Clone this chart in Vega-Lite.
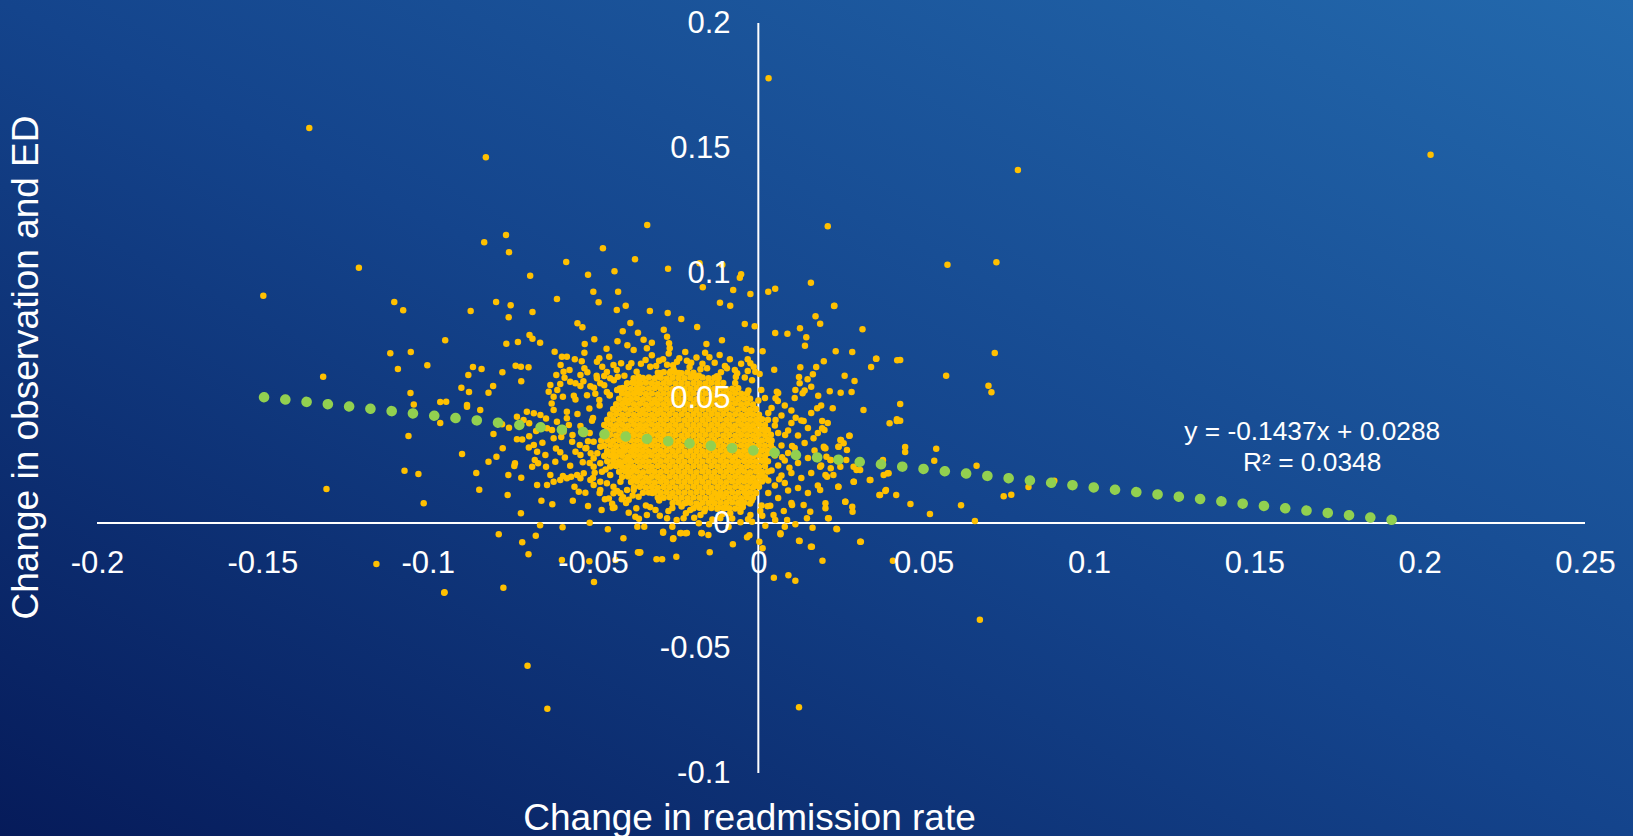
{
"$schema": "https://vega.github.io/schema/vega-lite/v6.json",
"width": 1633, "height": 836, "autosize": "none", "padding": 0,
"config": {"font": "Liberation Sans", "view": {"stroke": null, "fill": {"gradient": "linear", "x1": 0, "y1": 1, "x2": 1, "y2": 0, "stops": [{"offset": 0, "color": "#061b5a"}, {"offset": 0.5, "color": "#14448c"}, {"offset": 1, "color": "#2369ad"}]}}},
"datasets": {
"axes": [{"x": -0.2, "xe": 0.25, "y": 0, "ye": 0}, {"x": 0, "xe": 0, "y": -0.1, "ye": 0.2}],
"trend": [{"x": -0.1495, "y": 0.0503}, {"x": 0.1975, "y": 0.0004}],
"eq": [{"x": 0.1675, "y": 0.0332, "label": "y = -0.1437x + 0.0288"}, {"x": 0.1675, "y": 0.0208, "label": "R² = 0.0348"}],
"pts": [
{"x":0.0031,"y":0.1779},{"x":-0.1358,"y":0.1580},{"x":-0.0824,"y":0.1463},{"x":0.2033,"y":0.1473},{"x":0.0785,"y":0.1412},{"x":-0.0336,"y":0.1192},{"x":0.0210,"y":0.1187},{"x":-0.1208,"y":0.1021},{"x":-0.1497,"y":0.0909},{"x":0.0572,"y":0.1033},{"x":0.0720,"y":0.1043},{"x":0.0715,"y":0.0680},{"x":0.0568,"y":0.0589},{"x":0.0696,"y":0.0549},{"x":0.0705,"y":0.0523},{"x":0.0429,"y":0.0652},{"x":0.0429,"y":0.0476},{"x":0.0429,"y":0.0409},{"x":0.0444,"y":0.0304},{"x":0.0444,"y":0.0284},{"x":0.0538,"y":0.0297},{"x":0.0532,"y":0.0249},{"x":0.0660,"y":0.0229},{"x":0.0460,"y":0.0076},{"x":0.0519,"y":0.0036},{"x":0.0613,"y":0.0071},{"x":0.0655,"y":0.0008},{"x":0.0742,"y":0.0107},{"x":0.0765,"y":0.0113},{"x":0.0817,"y":0.0144},{"x":0.0895,"y":0.0169},{"x":-0.1316,"y":0.0585},{"x":-0.1306,"y":0.0136},{"x":-0.1155,"y":-0.0164},{"x":-0.0950,"y":-0.0279},{"x":-0.0771,"y":-0.0259},{"x":-0.0698,"y":-0.0571},{"x":-0.0638,"y":-0.0743},{"x":0.0123,"y":-0.0737},{"x":0.0670,"y":-0.0387},{"x":0.0230,"y":0.0869},{"x":0.0357,"y":0.0657},{"x":0.0419,"y":0.0415},{"x":0.0236,"y":-0.0023},{"x":0.0310,"y":-0.0075},{"x":0.0407,"y":-0.0151},{"x":-0.0360,"y":-0.0119},{"x":-0.0366,"y":-0.0015},{"x":-0.0288,"y":-0.0039},{"x":-0.0257,"y":-0.0061},{"x":-0.0236,"y":-0.0041},{"x":-0.0220,"y":-0.0041},{"x":-0.0171,"y":-0.0041},{"x":-0.0027,"y":-0.0049},{"x":0.0067,"y":-0.0041},{"x":0.0123,"y":-0.0071},{"x":0.0159,"y":-0.0095},
{"x":-0.0763,"y":0.1152},{"x":-0.0829,"y":0.1123},{"x":-0.0754,"y":0.1083},{"x":-0.0470,"y":0.1099},{"x":-0.0581,"y":0.1044},{"x":-0.0373,"y":0.1055},{"x":-0.0435,"y":0.1007},{"x":-0.0690,"y":0.0989},{"x":-0.0515,"y":0.0993},{"x":-0.0499,"y":0.0925},{"x":-0.0424,"y":0.0925},{"x":-0.0609,"y":0.0896},{"x":-0.0483,"y":0.0883},{"x":-0.1101,"y":0.0884},{"x":-0.1074,"y":0.0851},{"x":-0.0793,"y":0.0884},{"x":-0.0749,"y":0.0871},{"x":-0.0870,"y":0.0848},{"x":-0.0683,"y":0.0844},{"x":-0.0755,"y":0.0823},{"x":-0.0428,"y":0.0852},{"x":-0.0401,"y":0.0869},{"x":-0.0387,"y":0.0800},{"x":-0.0547,"y":0.0799},{"x":-0.0532,"y":0.0783},{"x":-0.0410,"y":0.0767},{"x":-0.0947,"y":0.0731},{"x":-0.0692,"y":0.0752},{"x":-0.0683,"y":0.0737},{"x":-0.0660,"y":0.0721},{"x":-0.0762,"y":0.0717},{"x":-0.0727,"y":0.0724},{"x":-0.0496,"y":0.0735},{"x":-0.0426,"y":0.0727},{"x":-0.0525,"y":0.0716},{"x":-0.0396,"y":0.0711},{"x":-0.1113,"y":0.0679},{"x":-0.1051,"y":0.0684},{"x":-0.0616,"y":0.0685},{"x":-0.0526,"y":0.0681},{"x":-0.0459,"y":0.0697},{"x":-0.0451,"y":0.0665},{"x":-0.0377,"y":0.0692},{"x":-0.0364,"y":0.0761},{"x":-0.1090,"y":0.0616},{"x":-0.1001,"y":0.0631},{"x":-0.0863,"y":0.0624},{"x":-0.0837,"y":0.0616},{"x":-0.0774,"y":0.0603},{"x":-0.0734,"y":0.0629},{"x":-0.0718,"y":0.0625},{"x":-0.0695,"y":0.0623},{"x":-0.0555,"y":0.0655},{"x":-0.0534,"y":0.0647},{"x":-0.0594,"y":0.0665},{"x":-0.0579,"y":0.0665},{"x":-0.0598,"y":0.0632},{"x":-0.0488,"y":0.0645},{"x":-0.0481,"y":0.0659},{"x":-0.0438,"y":0.0632},{"x":-0.0415,"y":0.0639},{"x":-0.0384,"y":0.0639},{"x":-0.0526,"y":0.0619},{"x":-0.0877,"y":0.0592},{"x":-0.0589,"y":0.0605},{"x":-0.0611,"y":0.0592},{"x":-0.0538,"y":0.0592},{"x":-0.0488,"y":0.0579},{"x":-0.0466,"y":0.0588},{"x":-0.0898,"y":0.0541},{"x":-0.0802,"y":0.0548},{"x":-0.0717,"y":0.0567},{"x":-0.1052,"y":0.0520},{"x":-0.0875,"y":0.0524},{"x":-0.0816,"y":0.0521},{"x":-0.0629,"y":0.0552},{"x":-0.0599,"y":0.0556},{"x":-0.0569,"y":0.0565},{"x":-0.0553,"y":0.0559},{"x":-0.0538,"y":0.0548},{"x":-0.0508,"y":0.0547},{"x":-0.0478,"y":0.0559},{"x":-0.0448,"y":0.0579},{"x":-0.0425,"y":0.0585},{"x":-0.0397,"y":0.0559},{"x":-0.0377,"y":0.0579},{"x":-0.0362,"y":0.0585},{"x":-0.0634,"y":0.0525},{"x":-0.0619,"y":0.0505},{"x":-0.0591,"y":0.0505},{"x":-0.0558,"y":0.0509},{"x":-0.0518,"y":0.0511},{"x":-0.0493,"y":0.0517},{"x":-0.0458,"y":0.0524},{"x":-0.0427,"y":0.0532},{"x":-0.0397,"y":0.0517},{"x":-0.0367,"y":0.0532},{"x":-0.0962,"y":0.0484},{"x":-0.0944,"y":0.0485},{"x":-0.0881,"y":0.0472},{"x":-0.1042,"y":0.0474},
{"x":-0.0273,"y":0.1017},{"x":-0.0178,"y":0.1039},{"x":-0.0109,"y":0.1033},{"x":-0.0168,"y":0.0943},{"x":-0.0076,"y":0.0932},{"x":-0.0056,"y":0.0981},{"x":-0.0052,"y":0.0995},{"x":-0.0024,"y":0.0916},{"x":0.0030,"y":0.0925},{"x":0.0051,"y":0.0937},{"x":0.0159,"y":0.0961},{"x":-0.0116,"y":0.0881},{"x":-0.0085,"y":0.0869},{"x":-0.0328,"y":0.0848},{"x":-0.0274,"y":0.0840},{"x":-0.0233,"y":0.0816},{"x":-0.0185,"y":0.0784},{"x":-0.0041,"y":0.0796},{"x":-0.0011,"y":0.0787},{"x":0.0229,"y":0.0868},{"x":0.0173,"y":0.0827},{"x":0.0187,"y":0.0797},{"x":0.0315,"y":0.0775},{"x":0.0126,"y":0.0779},{"x":0.0051,"y":0.0760},{"x":0.0088,"y":0.0757},{"x":0.0145,"y":0.0743},{"x":0.0141,"y":0.0709},{"x":-0.0286,"y":0.0773},{"x":-0.0276,"y":0.0745},{"x":-0.0270,"y":0.0719},{"x":-0.0268,"y":0.0699},{"x":-0.0110,"y":0.0731},{"x":-0.0157,"y":0.0716},{"x":-0.0161,"y":0.0681},{"x":-0.0036,"y":0.0696},{"x":-0.0021,"y":0.0689},{"x":0.0013,"y":0.0687},{"x":0.0234,"y":0.0687},{"x":0.0284,"y":0.0684},{"x":0.0356,"y":0.0657},{"x":0.0341,"y":0.0624},{"x":0.0420,"y":0.0651},{"x":0.0198,"y":0.0647},{"x":0.0175,"y":0.0624},{"x":0.0127,"y":0.0623},{"x":0.0048,"y":0.0613},{"x":0.0165,"y":0.0595},{"x":0.0123,"y":0.0584},{"x":0.0149,"y":0.0575},{"x":0.0125,"y":0.0559},{"x":0.0160,"y":0.0545},{"x":0.0134,"y":0.0519},{"x":0.0112,"y":0.0532},{"x":0.0181,"y":0.0509},{"x":0.0216,"y":0.0527},{"x":0.0249,"y":0.0521},{"x":0.0282,"y":0.0524},{"x":0.0261,"y":0.0589},{"x":0.0291,"y":0.0568},{"x":-0.0032,"y":0.0655},{"x":-0.0024,"y":0.0639},{"x":-0.0014,"y":0.0625},{"x":-0.0009,"y":0.0605},{"x":-0.0032,"y":0.0608},{"x":0.0009,"y":0.0532},{"x":0.0056,"y":0.0525},{"x":0.0052,"y":0.0499},{"x":-0.0347,"y":0.0733},{"x":-0.0322,"y":0.0721},{"x":-0.0337,"y":0.0699},{"x":-0.0300,"y":0.0649},{"x":-0.0276,"y":0.0633},{"x":-0.0246,"y":0.0645},{"x":-0.0216,"y":0.0649},{"x":-0.0208,"y":0.0624},{"x":-0.0175,"y":0.0615},{"x":-0.0155,"y":0.0619},{"x":-0.0095,"y":0.0619},{"x":-0.0064,"y":0.0599},{"x":-0.0125,"y":0.0587},{"x":-0.0201,"y":0.0587},{"x":-0.0256,"y":0.0613},{"x":-0.0296,"y":0.0599},{"x":-0.0327,"y":0.0625},
{"x":-0.1058,"y":0.0348},{"x":-0.0962,"y":0.0400},{"x":-0.0896,"y":0.0276},{"x":-0.1070,"y":0.0209},{"x":-0.1028,"y":0.0196},{"x":-0.1012,"y":0.0079},{"x":-0.0853,"y":0.0200},{"x":-0.0844,"y":0.0133},{"x":-0.0816,"y":0.0245},{"x":-0.0792,"y":0.0265},{"x":-0.0773,"y":0.0299},{"x":-0.0801,"y":0.0356},{"x":-0.0756,"y":0.0192},{"x":-0.0758,"y":0.0112},{"x":-0.0736,"y":0.0239},{"x":-0.0738,"y":0.0228},{"x":-0.0717,"y":0.0181},{"x":-0.0718,"y":0.0039},{"x":-0.0785,"y":-0.0045},{"x":-0.0714,"y":-0.0077},{"x":-0.0695,"y":-0.0125},{"x":-0.0673,"y":-0.0051},{"x":-0.0660,"y":-0.0009},{"x":-0.0592,"y":-0.0017},{"x":-0.0656,"y":0.0089},{"x":-0.0623,"y":0.0075},{"x":-0.0561,"y":0.0089},{"x":-0.0510,"y":0.0001},{"x":-0.0455,"y":-0.0025},{"x":-0.0408,"y":-0.0061},{"x":-0.0474,"y":0.0052},{"x":-0.0442,"y":0.0077},{"x":-0.0464,"y":0.0095},{"x":-0.0413,"y":0.0095},{"x":-0.0392,"y":0.0093},{"x":-0.0369,"y":0.0059},{"x":-0.0372,"y":0.0025},{"x":-0.0364,"y":-0.0117},{"x":-0.0511,"y":-0.0153},{"x":-0.0594,"y":-0.0148},{"x":-0.0497,"y":-0.0236},{"x":-0.0432,"y":-0.0148},{"x":-0.0949,"y":-0.0277},
{"x":-0.0730,"y":0.0335},{"x":-0.0714,"y":0.0334},{"x":-0.0693,"y":0.0347},{"x":-0.0679,"y":0.0312},{"x":-0.0669,"y":0.0285},{"x":-0.0676,"y":0.0252},{"x":-0.0666,"y":0.0239},{"x":-0.0642,"y":0.0225},{"x":-0.0644,"y":0.0272},{"x":-0.0614,"y":0.0245},{"x":-0.0684,"y":0.0225},{"x":-0.0669,"y":0.0152},{"x":-0.0639,"y":0.0152},{"x":-0.0629,"y":0.0192},{"x":-0.0619,"y":0.0165},{"x":-0.0599,"y":0.0172},{"x":-0.0579,"y":0.0179},{"x":-0.0591,"y":0.0188},{"x":-0.0566,"y":0.0185},{"x":-0.0548,"y":0.0192},{"x":-0.0538,"y":0.0179},{"x":-0.0528,"y":0.0199},{"x":-0.0508,"y":0.0172},{"x":-0.0498,"y":0.0152},{"x":-0.0556,"y":0.0145},{"x":-0.0543,"y":0.0125},{"x":-0.0599,"y":0.0283},{"x":-0.0553,"y":0.0285},{"x":-0.0538,"y":0.0272},{"x":-0.0619,"y":0.0339},{"x":-0.0639,"y":0.0379},{"x":-0.0609,"y":0.0405},{"x":-0.0579,"y":0.0419},{"x":-0.0624,"y":0.0372},{"x":-0.0589,"y":0.0365},{"x":-0.0563,"y":0.0325},{"x":-0.0540,"y":0.0312},{"x":-0.0523,"y":0.0299},{"x":-0.0498,"y":0.0325},{"x":-0.0478,"y":0.0305},{"x":-0.0458,"y":0.0279},{"x":-0.0498,"y":0.0225},{"x":-0.0473,"y":0.0205},{"x":-0.0448,"y":0.0192},{"x":-0.0458,"y":0.0159},{"x":-0.0438,"y":0.0145},{"x":-0.0417,"y":0.0165},{"x":-0.0397,"y":0.0132},{"x":-0.0377,"y":0.0132},{"x":-0.0362,"y":0.0105},{"x":-0.0438,"y":0.0119},{"x":-0.0417,"y":0.0119},{"x":-0.0619,"y":0.0452},{"x":-0.0579,"y":0.0445},{"x":-0.0700,"y":0.0445},{"x":-0.0679,"y":0.0439},{"x":-0.0659,"y":0.0432},{"x":-0.0841,"y":0.0452},{"x":-0.0881,"y":0.0465},{"x":-0.0478,"y":0.0165},{"x":-0.0377,"y":0.0172},{"x":-0.0397,"y":0.0205},{"x":-0.0377,"y":0.0219},{"x":-0.0392,"y":0.0259},{"x":-0.0417,"y":0.0239},{"x":-0.0438,"y":0.0232},{"x":-0.0438,"y":0.0272},{"x":-0.0407,"y":0.0292},{"x":-0.0377,"y":0.0299},{"x":-0.0498,"y":0.0259},{"x":-0.0478,"y":0.0239},{"x":-0.0775,"y":0.0395},{"x":-0.0754,"y":0.0381},{"x":-0.0710,"y":0.0412},{"x":-0.0693,"y":0.0399},{"x":-0.0730,"y":0.0425},
{"x":0.0318,"y":0.0452},{"x":0.0397,"y":0.0399},{"x":0.0419,"y":0.0408},{"x":0.0276,"y":0.0349},{"x":0.0248,"y":0.0332},{"x":0.0268,"y":0.0292},{"x":0.0243,"y":0.0305},{"x":0.0198,"y":0.0305},{"x":0.0193,"y":0.0379},{"x":0.0193,"y":0.0408},{"x":0.0225,"y":0.0459},{"x":0.0178,"y":0.0459},{"x":0.0137,"y":0.0408},{"x":0.0167,"y":0.0339},{"x":0.0218,"y":0.0252},{"x":0.0248,"y":0.0225},{"x":0.0288,"y":0.0225},{"x":0.0308,"y":0.0212},{"x":0.0339,"y":0.0172},{"x":0.0379,"y":0.0192},{"x":0.0394,"y":0.0199},{"x":0.0377,"y":0.0252},{"x":0.0366,"y":0.0112},{"x":0.0384,"y":0.0128},{"x":0.0417,"y":0.0112},{"x":0.0288,"y":0.0165},{"x":0.0284,"y":0.0065},{"x":0.0263,"y":0.0085},{"x":0.0203,"y":0.0079},{"x":0.0213,"y":0.0019},{"x":0.0238,"y":-0.0025},{"x":0.0242,"y":0.0145},{"x":0.0208,"y":0.0185},{"x":0.0308,"y":-0.0075},{"x":0.0194,"y":-0.0151},{"x":0.0162,"y":-0.0095},{"x":0.0125,"y":-0.0072},{"x":0.0164,"y":-0.0019},{"x":0.0112,"y":-0.0005},{"x":0.0080,"y":-0.0015},{"x":0.0067,"y":-0.0045},{"x":0.0021,"y":-0.0011},{"x":0.0003,"y":-0.0075},{"x":0.0013,"y":-0.0101},{"x":0.0047,"y":-0.0219},{"x":0.0091,"y":-0.0209},{"x":0.0112,"y":-0.0231},{"x":-0.0034,"y":-0.0057},{"x":-0.0077,"y":-0.0085},{"x":-0.0147,"y":-0.0117},{"x":-0.0248,"y":-0.0135},{"x":-0.0308,"y":-0.0145},{"x":-0.0291,"y":-0.0145},{"x":-0.0258,"y":-0.0064},{"x":-0.0288,"y":-0.0035},{"x":-0.0234,"y":-0.0040},{"x":-0.0216,"y":-0.0040},{"x":-0.0172,"y":-0.0040},{"x":-0.0151,"y":-0.0048},{"x":-0.0345,"y":-0.0015},{"x":-0.0357,"y":-0.0117},{"x":-0.0260,"y":-0.0015},{"x":-0.0180,"y":-0.0001},{"x":-0.0149,"y":-0.0005},{"x":-0.0090,"y":-0.0015},{"x":-0.0054,"y":0.0003},{"x":-0.0019,"y":0.0005},{"x":0.0051,"y":0.0012},{"x":0.0087,"y":0.0012},{"x":0.0147,"y":0.0019},{"x":0.0157,"y":0.0045},{"x":0.0137,"y":0.0072},{"x":0.0102,"y":0.0072},{"x":-0.0337,"y":0.0032},{"x":-0.0311,"y":0.0052},{"x":-0.0276,"y":0.0019},{"x":-0.0226,"y":0.0019},{"x":-0.0206,"y":0.0052},{"x":-0.0175,"y":0.0032},{"x":-0.0115,"y":0.0019},{"x":-0.0085,"y":0.0039},{"x":-0.0054,"y":0.0045},{"x":-0.0024,"y":0.0032},{"x":0.0006,"y":0.0048},{"x":0.0046,"y":0.0032},{"x":0.0077,"y":0.0048},
{"x":0.0275,"y":0.0349},{"x":0.0250,"y":0.0332},{"x":0.0258,"y":0.0319},{"x":0.0242,"y":0.0305},{"x":0.0200,"y":0.0372},{"x":0.0203,"y":0.0299},{"x":0.0206,"y":0.0265},{"x":0.0219,"y":0.0219},{"x":0.0203,"y":0.0192},{"x":0.0227,"y":0.0192},{"x":0.0187,"y":0.0132},{"x":0.0242,"y":0.0145},{"x":0.0289,"y":0.0165},{"x":0.0337,"y":0.0172},{"x":0.0203,"y":0.0059},{"x":0.0263,"y":0.0085},{"x":0.0285,"y":0.0045},{"x":0.0211,"y":0.0019},{"x":0.0368,"y":0.0112},{"x":0.0386,"y":0.0132},{"x":0.0391,"y":0.0199},{"x":0.0368,"y":0.0239},{"x":0.0297,"y":0.0212},{"x":0.0305,"y":0.0239},{"x":0.0266,"y":0.0252},{"x":0.0219,"y":0.0252},{"x":0.0187,"y":0.0225},
{"x":0.004,"y":0.046},{"x":0.007,"y":0.043},{"x":0.010,"y":0.045},{"x":0.013,"y":0.041},{"x":0.016,"y":0.044},{"x":0.005,"y":0.039},{"x":0.009,"y":0.037},{"x":0.012,"y":0.035},{"x":0.015,"y":0.038},{"x":0.018,"y":0.036},{"x":0.004,"y":0.033},{"x":0.007,"y":0.031},{"x":0.011,"y":0.030},{"x":0.014,"y":0.032},{"x":0.017,"y":0.029},{"x":0.005,"y":0.027},{"x":0.008,"y":0.025},{"x":0.012,"y":0.024},{"x":0.015,"y":0.026},{"x":0.019,"y":0.023},{"x":0.004,"y":0.021},{"x":0.007,"y":0.019},{"x":0.010,"y":0.020},{"x":0.013,"y":0.018},{"x":0.016,"y":0.020},{"x":0.005,"y":0.015},{"x":0.009,"y":0.013},{"x":0.012,"y":0.014},{"x":0.015,"y":0.012},{"x":0.006,"y":0.010},{"x":0.010,"y":0.008},{"x":0.003,"y":0.012},{"x":0.018,"y":0.015},{"x":0.020,"y":0.030},{"x":0.021,"y":0.040},{"x":0.019,"y":0.047},{"x":0.002,"y":0.050},{"x":0.006,"y":0.052},{"x":0.011,"y":0.050},{"x":0.014,"y":0.053},{"x":0.003,"y":0.044},{"x":0.006,"y":0.036},{"x":0.003,"y":0.028},{"x":0.006,"y":0.023},{"x":0.003,"y":0.017},{"x":0.008,"y":0.016},{"x":0.009,"y":0.028},{"x":0.010,"y":0.040},{"x":0.008,"y":0.047},{"x":0.002,"y":0.037},
{"x":0.0045,"y":0.0296},{"x":0.0052,"y":0.0412},{"x":0.0063,"y":0.0175},{"x":0.0072,"y":0.0263},{"x":0.0081,"y":0.0352},{"x":0.0094,"y":0.0221},{"x":0.0036,"y":0.0069},{"x":0.0059,"y":0.0488},{"x":0.0102,"y":0.0308},{"x":0.0113,"y":0.0421},
{"x":-0.044,"y":0.006},{"x":-0.040,"y":0.008},{"x":-0.034,"y":0.007},{"x":-0.030,"y":0.009},{"x":-0.026,"y":0.006},{"x":-0.022,"y":0.008},{"x":-0.018,"y":0.007},{"x":-0.014,"y":0.009},{"x":-0.010,"y":0.006},{"x":-0.006,"y":0.008},{"x":-0.002,"y":0.009},{"x":0.001,"y":0.007},{"x":-0.038,"y":0.011},{"x":-0.032,"y":0.012},{"x":-0.012,"y":0.011},{"x":-0.004,"y":0.012},{"x":-0.001,"y":0.015},{"x":0.001,"y":0.020},{"x":0.002,"y":0.025},{"x":-0.048,"y":0.012},{"x":-0.050,"y":0.018},{"x":-0.051,"y":0.024},{"x":-0.052,"y":0.030},{"x":-0.051,"y":0.036},{"x":-0.050,"y":0.042},{"x":-0.048,"y":0.047},{"x":-0.045,"y":0.051},{"x":-0.041,"y":0.054},{"x":-0.036,"y":0.057},{"x":-0.030,"y":0.059},{"x":-0.024,"y":0.060},{"x":-0.018,"y":0.059},{"x":-0.012,"y":0.058},{"x":-0.007,"y":0.056},{"x":-0.003,"y":0.053},{"x":0.000,"y":0.049},
{"x":-0.0642,"y":0.0418},{"x":-0.0625,"y":0.0478},{"x":-0.0608,"y":0.0532},{"x":-0.0586,"y":0.0581},{"x":-0.0571,"y":0.0612},{"x":-0.0553,"y":0.0494},{"x":-0.0547,"y":0.0436},{"x":-0.0538,"y":0.0388},{"x":-0.0529,"y":0.0567},{"x":-0.0517,"y":0.0603},{"x":-0.0511,"y":0.0458},{"x":-0.0503,"y":0.0409},{"x":-0.0497,"y":0.0541},{"x":-0.0489,"y":0.0589},{"x":-0.0481,"y":0.0492},{"x":-0.0472,"y":0.0625},{"x":-0.0466,"y":0.0551},{"x":-0.0458,"y":0.0604},{"x":-0.0449,"y":0.0512},{"x":-0.0437,"y":0.0571},{"x":-0.0428,"y":0.0612},{"x":-0.0419,"y":0.0538},{"x":-0.0405,"y":0.0589},{"x":-0.0392,"y":0.0624},{"x":-0.0381,"y":0.0561},{"x":-0.0368,"y":0.0605},{"x":-0.0355,"y":0.0637},{"x":-0.0596,"y":0.0344},{"x":-0.0573,"y":0.0392},{"x":-0.0562,"y":0.0352},{"x":-0.0527,"y":0.0356},{"x":-0.0515,"y":0.0327},{"x":-0.0507,"y":0.0279},{"x":-0.0531,"y":0.0243},{"x":-0.0569,"y":0.0229},{"x":-0.0585,"y":0.0262},{"x":-0.0612,"y":0.0298},{"x":-0.0653,"y":0.0321},{"x":-0.0672,"y":0.0368},{"x":-0.0694,"y":0.0302},
{"x":-0.0341,"y":0.0652},{"x":-0.0322,"y":0.0671},{"x":-0.0309,"y":0.0628},{"x":-0.0288,"y":0.0655},{"x":-0.0271,"y":0.0678},{"x":-0.0258,"y":0.0631},{"x":-0.0239,"y":0.0659},{"x":-0.0221,"y":0.0684},{"x":-0.0203,"y":0.0641},{"x":-0.0187,"y":0.0662},{"x":-0.0169,"y":0.0637},{"x":-0.0148,"y":0.0663},{"x":-0.0132,"y":0.0641},{"x":-0.0117,"y":0.0672},{"x":-0.0101,"y":0.0628},{"x":-0.0086,"y":0.0655},{"x":-0.0071,"y":0.0612},{"x":-0.0052,"y":0.0637},{"x":-0.0041,"y":0.0582},{"x":-0.0019,"y":0.0571},{"x":0.0004,"y":0.0596},{"x":-0.0068,"y":0.0584},{"x":-0.0113,"y":0.0603},{"x":-0.0265,"y":0.0606},
{"x":-0.0392,"y":0.0041},{"x":-0.0361,"y":0.0017},{"x":-0.0327,"y":0.0063},{"x":-0.0298,"y":0.0029},{"x":-0.0272,"y":0.0048},{"x":-0.0247,"y":0.0012},{"x":-0.0219,"y":0.0039},{"x":-0.0194,"y":0.0021},{"x":-0.0163,"y":0.0047},{"x":-0.0139,"y":0.0014},{"x":-0.0108,"y":0.0036},{"x":-0.0079,"y":0.0018},{"x":-0.0047,"y":0.0063},{"x":-0.0031,"y":0.0015},{"x":0.0012,"y":0.0029},{"x":0.0028,"y":0.0067},{"x":-0.0121,"y":0.0061},{"x":-0.0232,"y":0.0066},
{"x":-0.0487,"y":0.0279},{"x":-0.0495,"y":0.0201},{"x":-0.0478,"y":0.0132},{"x":-0.0462,"y":0.0214},{"x":-0.0452,"y":0.0098},{"x":-0.0435,"y":0.0062},{"x":-0.0427,"y":0.0128},{"x":-0.0409,"y":0.0103},{"x":-0.0523,"y":0.0121},{"x":-0.0515,"y":0.0068},
{"x":-0.0304,"y":0.0601},{"x":-0.0286,"y":0.0603},{"x":-0.0268,"y":0.0600},{"x":-0.0250,"y":0.0602},{"x":-0.0232,"y":0.0599},{"x":-0.0214,"y":0.0602},{"x":-0.0196,"y":0.0601},
{"x":-0.0349,"y":0.0580},{"x":-0.0331,"y":0.0582},{"x":-0.0313,"y":0.0579},{"x":-0.0295,"y":0.0581},{"x":-0.0277,"y":0.0578},{"x":-0.0259,"y":0.0581},{"x":-0.0241,"y":0.0580},{"x":-0.0223,"y":0.0579},{"x":-0.0205,"y":0.0582},{"x":-0.0187,"y":0.0580},{"x":-0.0169,"y":0.0582},{"x":-0.0151,"y":0.0579},{"x":-0.0133,"y":0.0581},
{"x":-0.0376,"y":0.0560},{"x":-0.0358,"y":0.0558},{"x":-0.0340,"y":0.0561},{"x":-0.0322,"y":0.0559},{"x":-0.0304,"y":0.0557},{"x":-0.0124,"y":0.0559},{"x":-0.0106,"y":0.0560},
{"x":-0.0403,"y":0.0539},{"x":-0.0385,"y":0.0537},{"x":-0.0367,"y":0.0540},{"x":-0.0349,"y":0.0538},{"x":-0.0079,"y":0.0537},{"x":-0.0061,"y":0.0539},
{"x":-0.0412,"y":0.0518},{"x":-0.0394,"y":0.0516},{"x":-0.0034,"y":0.0518},{"x":-0.0421,"y":0.0497},{"x":-0.0403,"y":0.0495},{"x":-0.0025,"y":0.0497},{"x":-0.0430,"y":0.0475},{"x":-0.0439,"y":0.0456},
{"x":0.0020,"y":0.0227},{"x":0.0011,"y":0.0204},{"x":0.0029,"y":0.0206},{"x":0.0002,"y":0.0185},{"x":0.0020,"y":0.0183},{"x":-0.0025,"y":0.0165},{"x":-0.0007,"y":0.0163},{"x":0.0011,"y":0.0166},{"x":-0.0034,"y":0.0144},{"x":-0.0016,"y":0.0142},{"x":0.0002,"y":0.0145},
{"x":-0.0349,"y":0.0121},{"x":-0.0079,"y":0.0123},{"x":-0.0061,"y":0.0121},{"x":-0.0043,"y":0.0124},{"x":-0.0025,"y":0.0122},{"x":-0.0007,"y":0.0120},
{"x":-0.0304,"y":0.0102},{"x":-0.0124,"y":0.0101},{"x":-0.0106,"y":0.0103},{"x":-0.0088,"y":0.0100},{"x":-0.0070,"y":0.0102},{"x":-0.0052,"y":0.0099},{"x":-0.0034,"y":0.0102},{"x":-0.0016,"y":0.0101},
{"x":-0.0259,"y":0.0080},{"x":-0.0241,"y":0.0082},{"x":-0.0223,"y":0.0079},{"x":-0.0205,"y":0.0081},{"x":-0.0187,"y":0.0078},{"x":-0.0169,"y":0.0081},{"x":-0.0151,"y":0.0080},{"x":-0.0133,"y":0.0079},{"x":-0.0115,"y":0.0082},{"x":-0.0097,"y":0.0080},{"x":-0.0079,"y":0.0082},{"x":-0.0061,"y":0.0079},{"x":-0.0043,"y":0.0081},{"x":-0.0025,"y":0.0078},
{"x":-0.0196,"y":0.0059},{"x":-0.0178,"y":0.0061},{"x":-0.0160,"y":0.0058},{"x":-0.0142,"y":0.0060},{"x":-0.0124,"y":0.0057},{"x":-0.0106,"y":0.0060},{"x":-0.0088,"y":0.0059},{"x":-0.0070,"y":0.0058},{"x":-0.0052,"y":0.0061},
{"x":-0.0286,"y":0.0559},{"x":-0.0268,"y":0.0561},{"x":-0.0250,"y":0.0558},{"x":-0.0232,"y":0.0560},{"x":-0.0214,"y":0.0557},{"x":-0.0196,"y":0.0560},{"x":-0.0178,"y":0.0559},{"x":-0.0160,"y":0.0558},{"x":-0.0142,"y":0.0561},
{"x":-0.0331,"y":0.0538},{"x":-0.0313,"y":0.0540},{"x":-0.0295,"y":0.0537},{"x":-0.0277,"y":0.0539},{"x":-0.0259,"y":0.0536},{"x":-0.0241,"y":0.0539},{"x":-0.0223,"y":0.0538},{"x":-0.0205,"y":0.0537},{"x":-0.0187,"y":0.0540},{"x":-0.0169,"y":0.0538},{"x":-0.0151,"y":0.0540},{"x":-0.0133,"y":0.0537},{"x":-0.0115,"y":0.0539},{"x":-0.0097,"y":0.0536},
{"x":-0.0376,"y":0.0517},{"x":-0.0358,"y":0.0519},{"x":-0.0340,"y":0.0516},{"x":-0.0322,"y":0.0518},{"x":-0.0304,"y":0.0515},{"x":-0.0286,"y":0.0518},{"x":-0.0268,"y":0.0517},{"x":-0.0250,"y":0.0516},{"x":-0.0232,"y":0.0519},{"x":-0.0214,"y":0.0517},{"x":-0.0196,"y":0.0519},{"x":-0.0178,"y":0.0516},{"x":-0.0160,"y":0.0518},{"x":-0.0142,"y":0.0515},{"x":-0.0124,"y":0.0518},{"x":-0.0106,"y":0.0517},{"x":-0.0088,"y":0.0516},{"x":-0.0070,"y":0.0519},{"x":-0.0052,"y":0.0517},
{"x":-0.0385,"y":0.0496},{"x":-0.0367,"y":0.0498},{"x":-0.0349,"y":0.0495},{"x":-0.0331,"y":0.0497},{"x":-0.0313,"y":0.0494},{"x":-0.0295,"y":0.0497},{"x":-0.0277,"y":0.0496},{"x":-0.0259,"y":0.0495},{"x":-0.0241,"y":0.0498},{"x":-0.0223,"y":0.0496},{"x":-0.0205,"y":0.0498},{"x":-0.0187,"y":0.0495},{"x":-0.0169,"y":0.0497},{"x":-0.0151,"y":0.0494},{"x":-0.0133,"y":0.0497},{"x":-0.0115,"y":0.0496},{"x":-0.0097,"y":0.0495},{"x":-0.0079,"y":0.0498},{"x":-0.0061,"y":0.0496},{"x":-0.0043,"y":0.0498},
{"x":-0.0412,"y":0.0476},{"x":-0.0394,"y":0.0478},{"x":-0.0376,"y":0.0475},{"x":-0.0358,"y":0.0477},{"x":-0.0340,"y":0.0474},{"x":-0.0322,"y":0.0477},{"x":-0.0304,"y":0.0476},{"x":-0.0286,"y":0.0475},{"x":-0.0268,"y":0.0478},{"x":-0.0250,"y":0.0476},{"x":-0.0232,"y":0.0478},{"x":-0.0214,"y":0.0475},{"x":-0.0196,"y":0.0477},{"x":-0.0178,"y":0.0474},{"x":-0.0160,"y":0.0477},{"x":-0.0142,"y":0.0476},{"x":-0.0124,"y":0.0475},{"x":-0.0106,"y":0.0478},{"x":-0.0088,"y":0.0476},{"x":-0.0070,"y":0.0478},{"x":-0.0052,"y":0.0475},{"x":-0.0034,"y":0.0477},{"x":-0.0016,"y":0.0474},
{"x":-0.0421,"y":0.0455},{"x":-0.0403,"y":0.0457},{"x":-0.0385,"y":0.0454},{"x":-0.0367,"y":0.0456},{"x":-0.0349,"y":0.0453},{"x":-0.0331,"y":0.0456},{"x":-0.0313,"y":0.0455},{"x":-0.0295,"y":0.0454},{"x":-0.0277,"y":0.0457},{"x":-0.0259,"y":0.0455},{"x":-0.0241,"y":0.0457},{"x":-0.0223,"y":0.0454},{"x":-0.0205,"y":0.0456},{"x":-0.0187,"y":0.0453},{"x":-0.0169,"y":0.0456},{"x":-0.0151,"y":0.0455},{"x":-0.0133,"y":0.0454},{"x":-0.0115,"y":0.0457},{"x":-0.0097,"y":0.0455},{"x":-0.0079,"y":0.0457},{"x":-0.0061,"y":0.0454},{"x":-0.0043,"y":0.0456},{"x":-0.0025,"y":0.0453},{"x":-0.0007,"y":0.0456},
{"x":-0.0448,"y":0.0434},{"x":-0.0430,"y":0.0436},{"x":-0.0412,"y":0.0433},{"x":-0.0394,"y":0.0435},{"x":-0.0376,"y":0.0432},{"x":-0.0358,"y":0.0435},{"x":-0.0340,"y":0.0434},{"x":-0.0322,"y":0.0433},{"x":-0.0304,"y":0.0436},{"x":-0.0286,"y":0.0434},{"x":-0.0268,"y":0.0436},{"x":-0.0250,"y":0.0433},{"x":-0.0232,"y":0.0435},{"x":-0.0214,"y":0.0432},{"x":-0.0196,"y":0.0435},{"x":-0.0178,"y":0.0434},{"x":-0.0160,"y":0.0433},{"x":-0.0142,"y":0.0436},{"x":-0.0124,"y":0.0434},{"x":-0.0106,"y":0.0436},{"x":-0.0088,"y":0.0433},{"x":-0.0070,"y":0.0435},{"x":-0.0052,"y":0.0432},{"x":-0.0034,"y":0.0435},{"x":-0.0016,"y":0.0434},{"x":0.0002,"y":0.0433},
{"x":-0.0457,"y":0.0413},{"x":-0.0439,"y":0.0415},{"x":-0.0421,"y":0.0412},{"x":-0.0403,"y":0.0414},{"x":-0.0385,"y":0.0411},{"x":-0.0367,"y":0.0414},{"x":-0.0349,"y":0.0413},{"x":-0.0331,"y":0.0412},{"x":-0.0313,"y":0.0415},{"x":-0.0295,"y":0.0413},{"x":-0.0277,"y":0.0415},{"x":-0.0259,"y":0.0412},{"x":-0.0241,"y":0.0414},{"x":-0.0223,"y":0.0411},{"x":-0.0205,"y":0.0414},{"x":-0.0187,"y":0.0413},{"x":-0.0169,"y":0.0412},{"x":-0.0151,"y":0.0415},{"x":-0.0133,"y":0.0413},{"x":-0.0115,"y":0.0415},{"x":-0.0097,"y":0.0412},{"x":-0.0079,"y":0.0414},{"x":-0.0061,"y":0.0411},{"x":-0.0043,"y":0.0414},{"x":-0.0025,"y":0.0413},{"x":-0.0007,"y":0.0412},{"x":0.0011,"y":0.0415},{"x":0.0029,"y":0.0413},
{"x":-0.0466,"y":0.0392},{"x":-0.0448,"y":0.0394},{"x":-0.0430,"y":0.0391},{"x":-0.0412,"y":0.0393},{"x":-0.0394,"y":0.0390},{"x":-0.0376,"y":0.0393},{"x":-0.0358,"y":0.0392},{"x":-0.0340,"y":0.0391},{"x":-0.0322,"y":0.0394},{"x":-0.0304,"y":0.0392},{"x":-0.0286,"y":0.0394},{"x":-0.0268,"y":0.0391},{"x":-0.0250,"y":0.0393},{"x":-0.0232,"y":0.0390},{"x":-0.0214,"y":0.0393},{"x":-0.0196,"y":0.0392},{"x":-0.0178,"y":0.0391},{"x":-0.0160,"y":0.0394},{"x":-0.0142,"y":0.0392},{"x":-0.0124,"y":0.0394},{"x":-0.0106,"y":0.0391},{"x":-0.0088,"y":0.0393},{"x":-0.0070,"y":0.0390},{"x":-0.0052,"y":0.0393},{"x":-0.0034,"y":0.0392},{"x":-0.0016,"y":0.0391},{"x":0.0002,"y":0.0394},{"x":0.0020,"y":0.0392},
{"x":-0.0457,"y":0.0372},{"x":-0.0439,"y":0.0374},{"x":-0.0421,"y":0.0371},{"x":-0.0403,"y":0.0373},{"x":-0.0385,"y":0.0370},{"x":-0.0367,"y":0.0373},{"x":-0.0349,"y":0.0372},{"x":-0.0331,"y":0.0371},{"x":-0.0313,"y":0.0374},{"x":-0.0295,"y":0.0372},{"x":-0.0277,"y":0.0374},{"x":-0.0259,"y":0.0371},{"x":-0.0241,"y":0.0373},{"x":-0.0223,"y":0.0370},{"x":-0.0205,"y":0.0373},{"x":-0.0187,"y":0.0372},{"x":-0.0169,"y":0.0371},{"x":-0.0151,"y":0.0374},{"x":-0.0133,"y":0.0372},{"x":-0.0115,"y":0.0374},{"x":-0.0097,"y":0.0371},{"x":-0.0079,"y":0.0373},{"x":-0.0061,"y":0.0370},{"x":-0.0043,"y":0.0373},{"x":-0.0025,"y":0.0372},{"x":-0.0007,"y":0.0371},{"x":0.0011,"y":0.0374},{"x":0.0029,"y":0.0372},
{"x":-0.0466,"y":0.0351},{"x":-0.0448,"y":0.0353},{"x":-0.0430,"y":0.0350},{"x":-0.0412,"y":0.0352},{"x":-0.0394,"y":0.0349},{"x":-0.0376,"y":0.0352},{"x":-0.0358,"y":0.0351},{"x":-0.0340,"y":0.0350},{"x":-0.0322,"y":0.0353},{"x":-0.0304,"y":0.0351},{"x":-0.0286,"y":0.0353},{"x":-0.0268,"y":0.0350},{"x":-0.0250,"y":0.0352},{"x":-0.0232,"y":0.0349},{"x":-0.0214,"y":0.0352},{"x":-0.0196,"y":0.0351},{"x":-0.0178,"y":0.0350},{"x":-0.0160,"y":0.0353},{"x":-0.0142,"y":0.0351},{"x":-0.0124,"y":0.0353},{"x":-0.0106,"y":0.0350},{"x":-0.0088,"y":0.0352},{"x":-0.0070,"y":0.0349},{"x":-0.0052,"y":0.0352},{"x":-0.0034,"y":0.0351},{"x":-0.0016,"y":0.0350},{"x":0.0002,"y":0.0353},{"x":0.0020,"y":0.0351},{"x":0.0038,"y":0.0353},
{"x":-0.0475,"y":0.0330},{"x":-0.0457,"y":0.0332},{"x":-0.0439,"y":0.0329},{"x":-0.0421,"y":0.0331},{"x":-0.0403,"y":0.0328},{"x":-0.0385,"y":0.0331},{"x":-0.0367,"y":0.0330},{"x":-0.0349,"y":0.0329},{"x":-0.0331,"y":0.0332},{"x":-0.0313,"y":0.0330},{"x":-0.0295,"y":0.0332},{"x":-0.0277,"y":0.0329},{"x":-0.0259,"y":0.0331},{"x":-0.0241,"y":0.0328},{"x":-0.0223,"y":0.0331},{"x":-0.0205,"y":0.0330},{"x":-0.0187,"y":0.0329},{"x":-0.0169,"y":0.0332},{"x":-0.0151,"y":0.0330},{"x":-0.0133,"y":0.0332},{"x":-0.0115,"y":0.0329},{"x":-0.0097,"y":0.0331},{"x":-0.0079,"y":0.0328},{"x":-0.0061,"y":0.0331},{"x":-0.0043,"y":0.0330},{"x":-0.0025,"y":0.0329},{"x":-0.0007,"y":0.0332},{"x":0.0011,"y":0.0330},{"x":0.0029,"y":0.0332},
{"x":-0.0466,"y":0.0309},{"x":-0.0448,"y":0.0311},{"x":-0.0430,"y":0.0308},{"x":-0.0412,"y":0.0310},{"x":-0.0394,"y":0.0307},{"x":-0.0376,"y":0.0310},{"x":-0.0358,"y":0.0309},{"x":-0.0340,"y":0.0308},{"x":-0.0322,"y":0.0311},{"x":-0.0304,"y":0.0309},{"x":-0.0286,"y":0.0311},{"x":-0.0268,"y":0.0308},{"x":-0.0250,"y":0.0310},{"x":-0.0232,"y":0.0307},{"x":-0.0214,"y":0.0310},{"x":-0.0196,"y":0.0309},{"x":-0.0178,"y":0.0308},{"x":-0.0160,"y":0.0311},{"x":-0.0142,"y":0.0309},{"x":-0.0124,"y":0.0311},{"x":-0.0106,"y":0.0308},{"x":-0.0088,"y":0.0310},{"x":-0.0070,"y":0.0307},{"x":-0.0052,"y":0.0310},{"x":-0.0034,"y":0.0309},{"x":-0.0016,"y":0.0308},{"x":0.0002,"y":0.0311},{"x":0.0020,"y":0.0309},{"x":0.0038,"y":0.0311},
{"x":-0.0457,"y":0.0288},{"x":-0.0439,"y":0.0290},{"x":-0.0421,"y":0.0287},{"x":-0.0403,"y":0.0289},{"x":-0.0385,"y":0.0286},{"x":-0.0367,"y":0.0289},{"x":-0.0349,"y":0.0288},{"x":-0.0331,"y":0.0287},{"x":-0.0313,"y":0.0290},{"x":-0.0295,"y":0.0288},{"x":-0.0277,"y":0.0290},{"x":-0.0259,"y":0.0287},{"x":-0.0241,"y":0.0289},{"x":-0.0223,"y":0.0286},{"x":-0.0205,"y":0.0289},{"x":-0.0187,"y":0.0288},{"x":-0.0169,"y":0.0287},{"x":-0.0151,"y":0.0290},{"x":-0.0133,"y":0.0288},{"x":-0.0115,"y":0.0290},{"x":-0.0097,"y":0.0287},{"x":-0.0079,"y":0.0289},{"x":-0.0061,"y":0.0286},{"x":-0.0043,"y":0.0289},{"x":-0.0025,"y":0.0288},{"x":-0.0007,"y":0.0287},{"x":0.0011,"y":0.0290},{"x":0.0029,"y":0.0288},
{"x":-0.0466,"y":0.0268},{"x":-0.0448,"y":0.0270},{"x":-0.0430,"y":0.0267},{"x":-0.0412,"y":0.0269},{"x":-0.0394,"y":0.0266},{"x":-0.0376,"y":0.0269},{"x":-0.0358,"y":0.0268},{"x":-0.0340,"y":0.0267},{"x":-0.0322,"y":0.0270},{"x":-0.0304,"y":0.0268},{"x":-0.0286,"y":0.0270},{"x":-0.0268,"y":0.0267},{"x":-0.0250,"y":0.0269},{"x":-0.0232,"y":0.0266},{"x":-0.0214,"y":0.0269},{"x":-0.0196,"y":0.0268},{"x":-0.0178,"y":0.0267},{"x":-0.0160,"y":0.0270},{"x":-0.0142,"y":0.0268},{"x":-0.0124,"y":0.0270},{"x":-0.0106,"y":0.0267},{"x":-0.0088,"y":0.0269},{"x":-0.0070,"y":0.0266},{"x":-0.0052,"y":0.0269},{"x":-0.0034,"y":0.0268},{"x":-0.0016,"y":0.0267},{"x":0.0002,"y":0.0270},{"x":0.0020,"y":0.0268},
{"x":-0.0457,"y":0.0247},{"x":-0.0439,"y":0.0249},{"x":-0.0421,"y":0.0246},{"x":-0.0403,"y":0.0248},{"x":-0.0385,"y":0.0245},{"x":-0.0367,"y":0.0248},{"x":-0.0349,"y":0.0247},{"x":-0.0331,"y":0.0246},{"x":-0.0313,"y":0.0249},{"x":-0.0295,"y":0.0247},{"x":-0.0277,"y":0.0249},{"x":-0.0259,"y":0.0246},{"x":-0.0241,"y":0.0248},{"x":-0.0223,"y":0.0245},{"x":-0.0205,"y":0.0248},{"x":-0.0187,"y":0.0247},{"x":-0.0169,"y":0.0246},{"x":-0.0151,"y":0.0249},{"x":-0.0133,"y":0.0247},{"x":-0.0115,"y":0.0249},{"x":-0.0097,"y":0.0246},{"x":-0.0079,"y":0.0248},{"x":-0.0061,"y":0.0245},{"x":-0.0043,"y":0.0248},{"x":-0.0025,"y":0.0247},{"x":-0.0007,"y":0.0246},{"x":0.0011,"y":0.0249},{"x":0.0029,"y":0.0247},
{"x":-0.0448,"y":0.0226},{"x":-0.0430,"y":0.0228},{"x":-0.0412,"y":0.0225},{"x":-0.0394,"y":0.0227},{"x":-0.0376,"y":0.0224},{"x":-0.0358,"y":0.0227},{"x":-0.0340,"y":0.0226},{"x":-0.0322,"y":0.0225},{"x":-0.0304,"y":0.0228},{"x":-0.0286,"y":0.0226},{"x":-0.0268,"y":0.0228},{"x":-0.0250,"y":0.0225},{"x":-0.0232,"y":0.0227},{"x":-0.0214,"y":0.0224},{"x":-0.0196,"y":0.0227},{"x":-0.0178,"y":0.0226},{"x":-0.0160,"y":0.0225},{"x":-0.0142,"y":0.0228},{"x":-0.0124,"y":0.0226},{"x":-0.0106,"y":0.0228},{"x":-0.0088,"y":0.0225},{"x":-0.0070,"y":0.0227},{"x":-0.0052,"y":0.0224},{"x":-0.0034,"y":0.0227},{"x":-0.0016,"y":0.0226},{"x":0.0002,"y":0.0225},
{"x":-0.0421,"y":0.0205},{"x":-0.0403,"y":0.0207},{"x":-0.0385,"y":0.0204},{"x":-0.0367,"y":0.0206},{"x":-0.0349,"y":0.0203},{"x":-0.0331,"y":0.0206},{"x":-0.0313,"y":0.0205},{"x":-0.0295,"y":0.0204},{"x":-0.0277,"y":0.0207},{"x":-0.0259,"y":0.0205},{"x":-0.0241,"y":0.0207},{"x":-0.0223,"y":0.0204},{"x":-0.0205,"y":0.0206},{"x":-0.0187,"y":0.0203},{"x":-0.0169,"y":0.0206},{"x":-0.0151,"y":0.0205},{"x":-0.0133,"y":0.0204},{"x":-0.0115,"y":0.0207},{"x":-0.0097,"y":0.0205},{"x":-0.0079,"y":0.0207},{"x":-0.0061,"y":0.0204},{"x":-0.0043,"y":0.0206},{"x":-0.0025,"y":0.0203},{"x":-0.0007,"y":0.0206},
{"x":-0.0412,"y":0.0184},{"x":-0.0394,"y":0.0186},{"x":-0.0376,"y":0.0183},{"x":-0.0358,"y":0.0185},{"x":-0.0340,"y":0.0182},{"x":-0.0322,"y":0.0185},{"x":-0.0304,"y":0.0184},{"x":-0.0286,"y":0.0183},{"x":-0.0268,"y":0.0186},{"x":-0.0250,"y":0.0184},{"x":-0.0232,"y":0.0186},{"x":-0.0214,"y":0.0183},{"x":-0.0196,"y":0.0185},{"x":-0.0178,"y":0.0182},{"x":-0.0160,"y":0.0185},{"x":-0.0142,"y":0.0184},{"x":-0.0124,"y":0.0183},{"x":-0.0106,"y":0.0186},{"x":-0.0088,"y":0.0184},{"x":-0.0070,"y":0.0186},{"x":-0.0052,"y":0.0183},{"x":-0.0034,"y":0.0185},{"x":-0.0016,"y":0.0182},
{"x":-0.0385,"y":0.0164},{"x":-0.0367,"y":0.0166},{"x":-0.0349,"y":0.0163},{"x":-0.0331,"y":0.0165},{"x":-0.0313,"y":0.0162},{"x":-0.0295,"y":0.0165},{"x":-0.0277,"y":0.0164},{"x":-0.0259,"y":0.0163},{"x":-0.0241,"y":0.0166},{"x":-0.0223,"y":0.0164},{"x":-0.0205,"y":0.0166},{"x":-0.0187,"y":0.0163},{"x":-0.0169,"y":0.0165},{"x":-0.0151,"y":0.0162},{"x":-0.0133,"y":0.0165},{"x":-0.0115,"y":0.0164},{"x":-0.0097,"y":0.0163},{"x":-0.0079,"y":0.0166},{"x":-0.0061,"y":0.0164},{"x":-0.0043,"y":0.0166},
{"x":-0.0376,"y":0.0143},{"x":-0.0358,"y":0.0145},{"x":-0.0340,"y":0.0142},{"x":-0.0322,"y":0.0144},{"x":-0.0304,"y":0.0141},{"x":-0.0286,"y":0.0144},{"x":-0.0268,"y":0.0143},{"x":-0.0250,"y":0.0142},{"x":-0.0232,"y":0.0145},{"x":-0.0214,"y":0.0143},{"x":-0.0196,"y":0.0145},{"x":-0.0178,"y":0.0142},{"x":-0.0160,"y":0.0144},{"x":-0.0142,"y":0.0141},{"x":-0.0124,"y":0.0144},{"x":-0.0106,"y":0.0143},{"x":-0.0088,"y":0.0142},{"x":-0.0070,"y":0.0145},{"x":-0.0052,"y":0.0143},
{"x":-0.0331,"y":0.0122},{"x":-0.0313,"y":0.0124},{"x":-0.0295,"y":0.0121},{"x":-0.0277,"y":0.0123},{"x":-0.0259,"y":0.0120},{"x":-0.0241,"y":0.0123},{"x":-0.0223,"y":0.0122},{"x":-0.0205,"y":0.0121},{"x":-0.0187,"y":0.0124},{"x":-0.0169,"y":0.0122},{"x":-0.0151,"y":0.0124},{"x":-0.0133,"y":0.0121},{"x":-0.0115,"y":0.0123},{"x":-0.0097,"y":0.0120},
{"x":-0.0286,"y":0.0101},{"x":-0.0268,"y":0.0103},{"x":-0.0250,"y":0.0100},{"x":-0.0232,"y":0.0102},{"x":-0.0214,"y":0.0099},{"x":-0.0196,"y":0.0102},{"x":-0.0178,"y":0.0101},{"x":-0.0160,"y":0.0100},{"x":-0.0142,"y":0.0103}
]
},
"encoding": {
"x": {"field": "x", "type": "quantitative", "scale": {"domain": [-0.229334, 0.264516], "nice": false, "zero": false},
 "axis": {"title": "Change in readmission rate", "values": [-0.2, -0.15, -0.1, -0.05, 0, 0.05, 0.1, 0.15, 0.2, 0.25], "labelExpr": "datum.value + ''", "offset": -313, "domain": false, "ticks": false, "tickSize": 0, "grid": false, "labelPadding": 25, "labelFont": "Liberation Sans", "labelFontSize": 31, "labelColor": "#ffffff", "labelFlush": false, "labelOverlap": false, "labelBound": false, "titleFont": "Liberation Sans", "titleFontSize": 37, "titleFontWeight": "normal", "titleColor": "#ffffff", "titleX": 749, "titleY": 306, "titleBaseline": "alphabetic", "titleAlign": "center", "zindex": 1}},
"y": {"field": "y", "type": "quantitative", "scale": {"domain": [-0.1252, 0.2092], "nice": false, "zero": false},
 "axis": {"title": "Change in observation and ED", "values": [-0.1, -0.05, 0, 0.05, 0.1, 0.15, 0.2], "labelExpr": "datum.value + ''", "offset": -758, "domain": false, "ticks": false, "tickSize": 0, "grid": false, "labelPadding": 28, "labelFont": "Liberation Sans", "labelFontSize": 31, "labelColor": "#ffffff", "labelFlush": false, "labelOverlap": false, "labelBound": false, "titleFont": "Liberation Sans", "titleFontSize": 37, "titleFontWeight": "normal", "titleColor": "#ffffff", "titleX": -721, "titleY": 367, "titleAngle": 270, "titleBaseline": "alphabetic", "titleAlign": "center", "zindex": 1}}
},
"layer": [
{"data": {"name": "axes"}, "mark": {"type": "rule", "color": "#ffffff", "strokeWidth": 2}, "encoding": {"x2": {"field": "xe"}, "y2": {"field": "ye"}}},
{"data": {"name": "pts"}, "mark": {"type": "circle", "size": 42, "color": "#FFC000", "opacity": 1}},
{"data": {"name": "trend"}, "mark": {"type": "line", "color": "#92D050", "strokeWidth": 10.5, "strokeCap": "round", "strokeDash": [0.1, 21.3]}},
{"data": {"name": "eq"}, "mark": {"type": "text", "color": "#ffffff", "font": "Liberation Sans", "fontSize": 26.3, "align": "center", "baseline": "alphabetic"}, "encoding": {"text": {"field": "label"}}}
]
}
